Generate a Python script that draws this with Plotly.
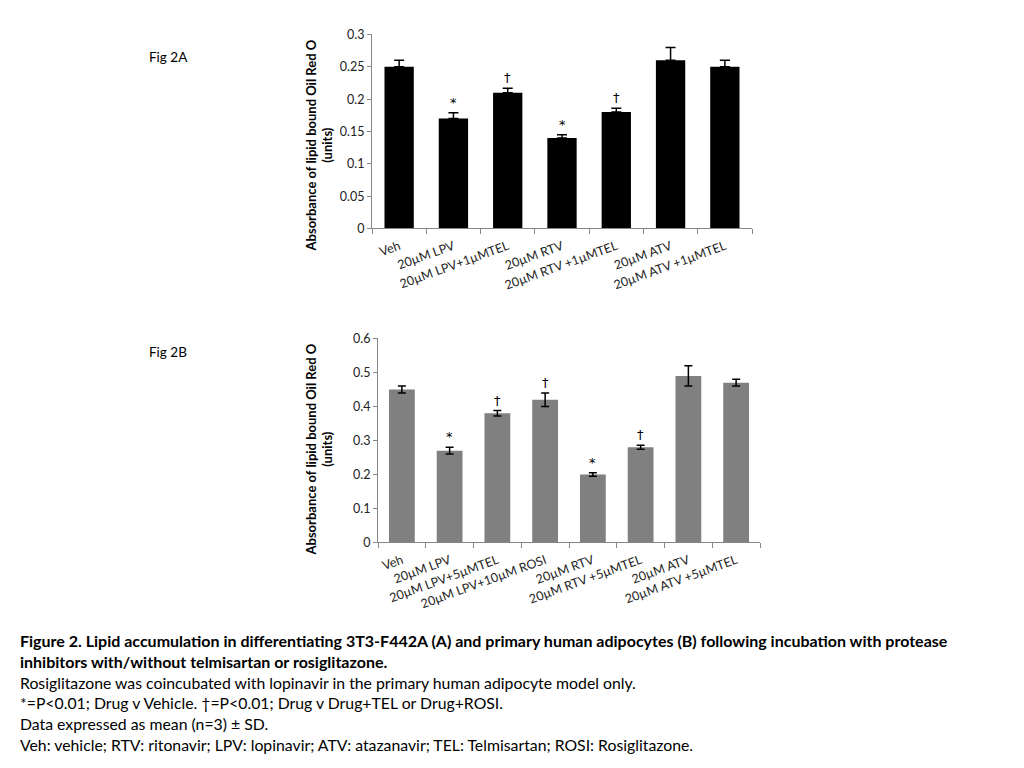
import plotly.graph_objects as go

# ---------------- data ----------------
cats_a = ["Veh", "20µM LPV", "20µM LPV+1µMTEL", "20µM RTV", "20µM RTV +1µMTEL",
          "20µM ATV", "20µM ATV +1µMTEL"]
vals_a = [0.25, 0.17, 0.21, 0.14, 0.18, 0.26, 0.25]
err_a = [0.010, 0.009, 0.007, 0.005, 0.006, 0.020, 0.010]
sig_a = ["", "*", "†", "*", "†", "", ""]

cats_b = ["Veh", "20µM LPV", "20µM LPV+5µMTEL", "20µM LPV+10µM ROSI", "20µM RTV",
          "20µM RTV +5µMTEL", "20µM ATV", "20µM ATV +5µMTEL"]
vals_b = [0.45, 0.27, 0.38, 0.42, 0.20, 0.28, 0.49, 0.47]
err_b = [0.010, 0.010, 0.008, 0.020, 0.005, 0.006, 0.030, 0.010]
sig_b = ["", "*", "†", "†", "*", "†", "", ""]

yticks_a = [0, 0.05, 0.1, 0.15, 0.2, 0.25, 0.3]
yticks_b = [0, 0.1, 0.2, 0.3, 0.4, 0.5, 0.6]

caption = [
    ("Figure 2. Lipid accumulation in differentiating 3T3-F442A (A) and primary human adipocytes (B) following incubation with protease", True),
    ("inhibitors with/without telmisartan or rosiglitazone.", True),
    ("Rosiglitazone was coincubated with lopinavir in the primary human adipocyte model only.", False),
    ("*=P<0.01; Drug v Vehicle. †=P<0.01; Drug v Drug+TEL or Drug+ROSI.", False),
    ("Data expressed as mean (n=3) ± SD.", False),
    ("Veh: vehicle; RTV: ritonavir; LPV: lopinavir; ATV: atazanavir; TEL: Telmisartan; ROSI: Rosiglitazone.", False),
]

# page is 1024x768 with the browser's default 8px body margin
OFF = 8
W, H = 1024 - 2 * OFF, 768 - 2 * OFF
FONT = "Lato"
SYM = "DejaVu Sans"
AX = "#868686"

def px_x(p):
    return (p - OFF) / W

def px_y(p):
    # empirical vertical correction of the rendered page
    q = (p - 8.7) / 0.98
    return 1 - (q - OFF) / H

fig = go.Figure()

fig.add_trace(go.Bar(
    x=cats_a, y=vals_a, xaxis="x", yaxis="y",
    marker=dict(color="#000000", line=dict(width=0)),
    error_y=dict(type="data", symmetric=False, array=err_a,
                 arrayminus=[0] * len(err_a), color="#000000",
                 thickness=1.5, width=5),
    showlegend=False, hoverinfo="skip",
))
fig.add_trace(go.Bar(
    x=cats_b, y=vals_b, xaxis="x2", yaxis="y2",
    marker=dict(color="#808080", line=dict(width=0)),
    error_y=dict(type="data", array=err_b, color="#000000",
                 thickness=1.5, width=4),
    showlegend=False, hoverinfo="skip",
))

annotations = []
for c, v, e, s in zip(cats_a, vals_a, err_a, sig_a):
    if s:
        annotations.append(dict(x=c, y=v + e, xref="x", yref="y", text=s,
                                showarrow=False, yanchor="bottom", yshift=1,
                                font=dict(family=SYM, size=13, color="#000000")))
for c, v, e, s in zip(cats_b, vals_b, err_b, sig_b):
    if s:
        annotations.append(dict(x=c, y=v + e, xref="x2", yref="y2", text=s,
                                showarrow=False, yanchor="bottom", yshift=1,
                                font=dict(family=SYM, size=13, color="#000000")))

# Fig labels
annotations.append(dict(x=px_x(147), y=px_y(58), xref="paper", yref="paper",
                        text="Fig 2A", showarrow=False, xanchor="left", yanchor="middle",
                        font=dict(family=FONT, size=13.5, color="#000")))
annotations.append(dict(x=px_x(147), y=px_y(353), xref="paper", yref="paper",
                        text="Fig 2B", showarrow=False, xanchor="left", yanchor="middle",
                        font=dict(family=FONT, size=13.5, color="#000")))

# Axis titles
ytitle = "<b>Absorbance of lipid bound Oil Red O<br>(units)</b>"
annotations.append(dict(x=px_x(319), y=px_y(146), xref="paper", yref="paper",
                        text=ytitle, showarrow=False, textangle=-90,
                        xanchor="center", yanchor="middle",
                        font=dict(family=FONT, size=13, color="#000")))
annotations.append(dict(x=px_x(319), y=px_y(450), xref="paper", yref="paper",
                        text=ytitle, showarrow=False, textangle=-90,
                        xanchor="center", yanchor="middle",
                        font=dict(family=FONT, size=13, color="#000")))

# Caption
y0 = 641
for i, (line, bold) in enumerate(caption):
    txt = f"<b>{line}</b>" if bold else line
    annotations.append(dict(x=px_x(18), y=px_y(y0 + i * 20.8), xref="paper", yref="paper",
                            text=txt, showarrow=False, xanchor="left", yanchor="middle",
                            font=dict(family=FONT, size=16 if bold else 15.8, color="#000")))

xaxis_common = dict(type="category", showline=True, linecolor=AX, linewidth=1,
                    ticks="outside", tickson="boundaries", ticklen=5, tickcolor=AX,
                    tickangle=-20, showgrid=False, zeroline=False,
                    ticklabelstandoff=5,
                    tickfont=dict(family=FONT, size=12.5, color="#222"))
yaxis_common = dict(showline=True, linecolor=AX, linewidth=1, ticks="outside",
                    ticklen=4, tickcolor=AX, showgrid=False, zeroline=False,
                    tickfont=dict(family=FONT, size=12.5, color="#222"))

fig.update_layout(
    width=W, height=H, autosize=False,
    margin=dict(l=0, r=0, t=0, b=0),
    paper_bgcolor="white", plot_bgcolor="white",
    bargap=0.46,
    xaxis=dict(domain=[px_x(372), px_x(752)], anchor="y", **xaxis_common),
    yaxis=dict(domain=[px_y(229), px_y(35)], anchor="x", range=[0, 0.3],
               tickvals=yticks_a, ticktext=[f"{t:g}" for t in yticks_a], **yaxis_common),
    xaxis2=dict(domain=[px_x(378), px_x(760)], anchor="y2", **xaxis_common),
    yaxis2=dict(domain=[px_y(543), px_y(339)], anchor="x2", range=[0, 0.6],
                tickvals=yticks_b, ticktext=[f"{t:g}" for t in yticks_b], **yaxis_common),
    annotations=annotations,
)

fig.write_html("out.html", config={"displayModeBar": False})
